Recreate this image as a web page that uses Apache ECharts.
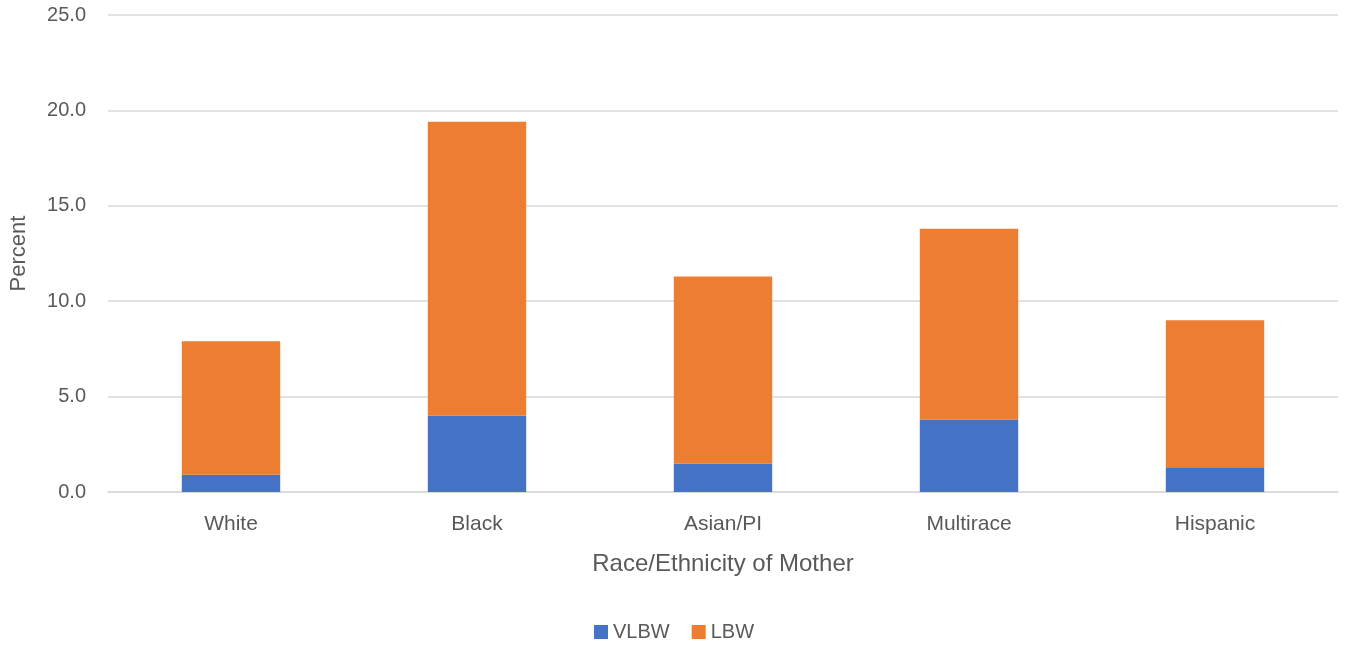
<!DOCTYPE html>
<html>
<head>
<meta charset="utf-8">
<script src="https://cdn.jsdelivr.net/npm/echarts@6/dist/echarts.min.js"></script>
<style>
  html, body { margin: 0; padding: 0; background: #ffffff; }
  #chart { width: 1348px; height: 647px; }
</style>
</head>
<body>
<div id="chart"></div>
<script>
// Low birth weight by race/ethnicity of mother (percent)
const categories = ['White', 'Black', 'Asian/PI', 'Multirace', 'Hispanic'];
const vlbwValues = [0.9, 4.0, 1.5, 3.8, 1.3];
const lbwValues = [7.0, 15.4, 9.8, 10.0, 7.7];
const yTicks = { min: 0, max: 25, interval: 5 };

const FONT = 'Liberation Sans';
const TEXT = '#595959';

const chart = echarts.init(document.getElementById('chart'));
chart.setOption({
  animation: false,
  textStyle: { fontFamily: FONT },
  grid: { left: 108, right: 10, top: 15, bottom: 155 },
  legend: {
    bottom: 0,
    left: 'center',
    itemWidth: 14,
    itemHeight: 14,
    itemGap: 22,
    icon: 'rect',
    textStyle: { color: TEXT, fontSize: 20, fontFamily: FONT },
    data: ['VLBW', 'LBW']
  },
  xAxis: {
    type: 'category',
    data: categories,
    name: 'Race/Ethnicity of Mother',
    nameLocation: 'middle',
    nameGap: 60,
    nameTextStyle: { color: TEXT, fontSize: 24, fontFamily: FONT },
    axisLine: { lineStyle: { color: '#d9d9d9', width: 1.5 } },
    axisTick: { show: false },
    axisLabel: { color: TEXT, fontSize: 21, margin: 22, fontFamily: FONT }
  },
  yAxis: {
    type: 'value',
    min: yTicks.min,
    max: yTicks.max,
    interval: yTicks.interval,
    name: 'Percent',
    nameLocation: 'middle',
    nameRotate: 90,
    nameGap: 78,
    nameTextStyle: { color: TEXT, fontSize: 22, fontFamily: FONT },
    axisLine: { show: false },
    axisTick: { show: false },
    axisLabel: {
      color: TEXT,
      fontSize: 20,
      margin: 22,
      fontFamily: FONT,
      formatter: v => v.toFixed(1)
    },
    splitLine: { lineStyle: { color: '#d9d9d9', width: 1.5 } }
  },
  series: [
    {
      name: 'VLBW',
      type: 'bar',
      stack: 'total',
      data: vlbwValues,
      barWidth: '40%',
      itemStyle: { color: '#4472C4' }
    },
    {
      name: 'LBW',
      type: 'bar',
      stack: 'total',
      data: lbwValues,
      barWidth: '40%',
      itemStyle: { color: '#ED7D31' }
    }
  ]
});
</script>
</body>
</html>
